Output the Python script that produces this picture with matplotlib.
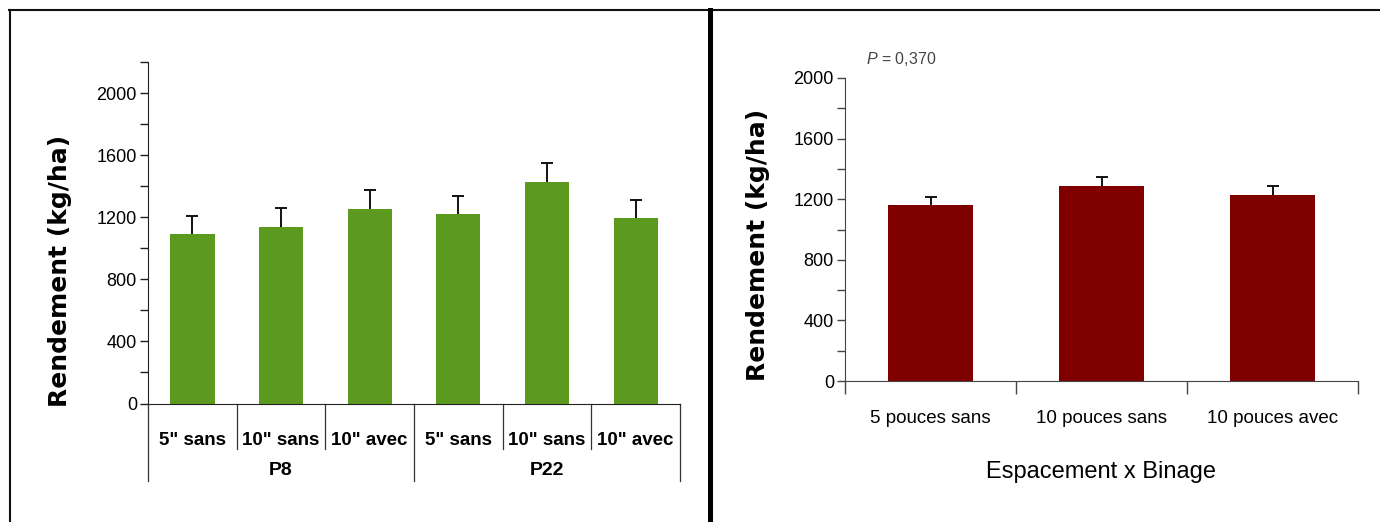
import matplotlib
matplotlib.use("Agg")
import matplotlib.pyplot as plt
from matplotlib.lines import Line2D
from matplotlib.ticker import MultipleLocator, FixedLocator

plt.rcParams['font.family'] = ['Liberation Sans', 'DejaVu Sans']
plt.rcParams['mathtext.fontset'] = 'custom'
plt.rcParams['mathtext.it'] = 'Liberation Sans:italic'

# --- data: left panel (population x espacement x binage) ---
left_labels = ['5" sans', '10" sans', '10" avec', '5" sans', '10" sans', '10" avec']
left_groups = ['P8', 'P22']
left_values = [1090, 1140, 1255, 1220, 1430, 1195]
left_errors = [118, 118, 118, 118, 120, 118]

# --- data: right panel (espacement x binage) ---
right_labels = ['5 pouces sans', '10 pouces sans', '10 pouces avec']
right_values = [1160, 1290, 1225]
right_errors = [55, 55, 62]
p_text = '$\\mathit{P}$ = 0,370'

W, H = 1380, 522
fig = plt.figure(figsize=(W / 100, H / 100), dpi=100)

def fx(px):
    return px / W

def fy(py):
    return 1 - py / H

def upper_errors(ax, x, vals, errs):
    # error bar only above the bar, single cap at the top
    ax.errorbar(x, vals, yerr=[[0] * len(errs), errs], fmt='none',
                ecolor='#111111', elinewidth=1.4, capsize=0, zorder=3)
    tops = [v + e for v, e in zip(vals, errs)]
    ax.plot(x, tops, ls='none', marker='_', markersize=9, markeredgewidth=1.4,
            color='#111111', zorder=3)

# ---------- left chart ----------
axl = fig.add_axes([fx(148), fy(403.5), fx(680) - fx(148), fy(62) - fy(403.5)])
xl = list(range(len(left_values)))
axl.bar(xl, left_values, width=0.5, color='#5b9a1f', zorder=2)
upper_errors(axl, xl, left_values, left_errors)
axl.set_xlim(-0.5, len(left_values) - 0.5)
axl.set_ylim(0, 2200)
axl.yaxis.set_major_locator(FixedLocator([0, 400, 800, 1200, 1600, 2000]))
axl.yaxis.set_minor_locator(MultipleLocator(200))
axl.tick_params(axis='y', which='both', length=6, width=1, color='#222222',
                labelsize=13, pad=2)
axl.set_xticks([])
for s in ['top', 'right']:
    axl.spines[s].set_visible(False)
axl.spines['left'].set_color('#222222')
axl.spines['bottom'].set_color('#222222')

tr = axl.get_xaxis_transform()
for i, lab in enumerate(left_labels):
    axl.text(i, -0.107, lab, transform=tr, ha='center', va='center',
             fontsize=13.5, fontweight='bold')
# separators between categories and groups
for b in [0.5, 1.5, 3.5, 4.5]:
    axl.plot([b, b], [0, -0.133], transform=tr, color='#333333', lw=0.9, clip_on=False)
for b in [-0.5, 2.5, 5.5]:
    axl.plot([b, b], [0, -0.227], transform=tr, color='#333333', lw=0.9, clip_on=False)
for g, lab in enumerate(left_groups):
    axl.text(g * 3 + 1, -0.195, lab, transform=tr, ha='center', va='center',
             fontsize=14, fontweight='bold')

fig.text(fx(60), fy(271), 'Rendement (kg/ha)', rotation=90, ha='center', va='center',
         fontsize=18, fontweight='bold', family='DejaVu Sans')

# ---------- right chart ----------
axr = fig.add_axes([fx(845), fy(381), fx(1358) - fx(845), fy(78) - fy(381)])
xr = list(range(len(right_values)))
axr.bar(xr, right_values, width=0.5, color='#800000', zorder=2)
upper_errors(axr, xr, right_values, right_errors)
axr.set_xlim(-0.5, len(right_values) - 0.5)
axr.set_ylim(0, 2000)
axr.yaxis.set_major_locator(MultipleLocator(400))
axr.yaxis.set_minor_locator(MultipleLocator(200))
axr.tick_params(axis='y', which='both', length=6, width=1, color='#444444',
                labelsize=13, pad=2)
axr.set_xticks(xr)
axr.set_xticklabels(right_labels, fontsize=13.5)
axr.xaxis.set_minor_locator(FixedLocator([-0.5, 0.5, 1.5, 2.5]))
axr.tick_params(axis='x', which='major', length=0, pad=21)
axr.tick_params(axis='x', which='minor', length=9, width=1, color='#444444')
for s in ['top', 'right']:
    axr.spines[s].set_visible(False)
axr.spines['left'].set_color('#444444')
axr.spines['bottom'].set_color('#444444')
axr.set_xlabel('Espacement x Binage', fontsize=17, labelpad=24)

axr.text(fx(866), fy(59), p_text, transform=fig.transFigure, ha='left', va='center',
         fontsize=11.5, color='#444444')

fig.text(fx(758), fy(245), 'Rendement (kg/ha)', rotation=90, ha='center', va='center',
         fontsize=18, fontweight='bold', family='DejaVu Sans')

# ---------- panel borders ----------
fig.add_artist(Line2D([fx(9), 1], [fy(10), fy(10)], transform=fig.transFigure,
                      color='#111111', lw=1.5))
fig.add_artist(Line2D([fx(9.5), fx(9.5)], [fy(10), 0], transform=fig.transFigure,
                      color='#111111', lw=1.5))
fig.add_artist(Line2D([fx(710), fx(710)], [fy(10), 0], transform=fig.transFigure,
                      color='#000000', lw=3.6))

fig.savefig('out.png', dpi=100)
